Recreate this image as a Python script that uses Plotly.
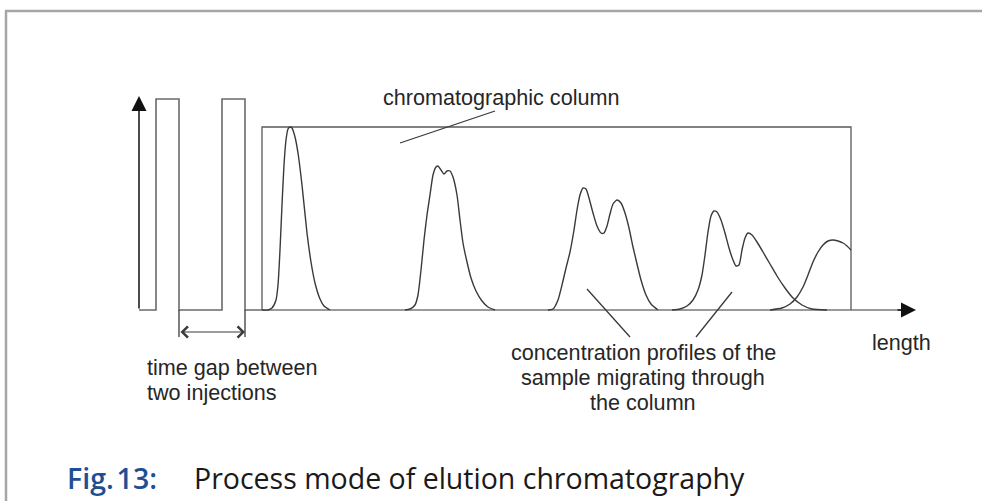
import plotly.graph_objects as go

# ---- data (x: length units, y: concentration above baseline) ----
# injection pulses
pulse_x = [139, 156, 156, 179, 179, 222, 222, 245, 245, 262]
pulse_y = [0, 0, 211, 211, 0, 0, 211, 211, 0, 0]

# column
col_x0, col_x1, col_top = 262, 851, 183
axis_end_x = 916
yaxis_top = 214

peak1_x = [262, 268, 272, 276, 278, 280, 282, 284, 286, 288, 290, 292, 295, 298, 302, 307, 311, 315, 320, 324, 330]
peak1_y = [0, 0, 2, 10, 25, 60, 105, 145, 170, 181, 183, 182, 173, 157, 125, 77, 48, 27, 11, 4, 0]

peak2_x = [405, 410, 415, 418, 421, 424, 427, 430, 433, 436, 438, 441, 444, 447, 450, 453, 457, 460, 463, 467, 471, 476, 482, 488, 495]
peak2_y = [0, 1, 5, 15, 40, 70, 95, 115, 135, 143, 144, 140, 136, 139, 139, 133, 115, 90, 67, 48, 32, 19, 9, 3, 0]

peak3_x = [548, 553, 558, 562, 566, 570, 574, 577, 580, 583, 586, 589, 593, 597, 601, 604, 607, 610, 613, 617, 621, 625, 629, 633, 637, 641, 646, 651, 658]
peak3_y = [0, 1, 10, 25, 42, 58, 80, 100, 115, 122, 121, 112, 97, 84, 77, 77, 84, 96, 106, 110, 107, 97, 82, 63, 46, 30, 15, 6, 0]

peak4_x = [672, 680, 687, 693, 698, 702, 705, 708, 711, 714, 717, 721, 725, 729, 733, 736, 739, 742, 745, 748, 752, 757, 763, 770, 777, 785, 793, 802, 812, 827]
peak4_y = [0, 1, 4, 10, 20, 35, 55, 78, 94, 99, 98, 90, 77, 62, 50, 44, 45, 60, 72, 77, 75, 68, 58, 46, 34, 22, 12, 5, 1, 0]

peak5_x = [770, 782, 790, 797, 803, 808, 813, 818, 823, 828, 833, 838, 843, 847, 851]
peak5_y = [0, 2, 6, 13, 23, 35, 48, 58, 65, 69, 70, 69, 67, 64, 60]

gap_x = [179, 245]
gap_arrow_y = -22
gap_line_bottom = -27

# ---- figure ----
LINE = "#3a3a3a"
TXT = "#262626"
FONT = "Liberation Sans, Arial, sans-serif"
CAP_FONT = "Open Sans, sans-serif"

fig = go.Figure()

fig.add_trace(go.Scatter(x=pulse_x, y=pulse_y, mode="lines",
                         line=dict(color="#6a6a6a", width=1.6), hoverinfo="skip"))
# baseline
fig.add_trace(go.Scatter(x=[col_x0, axis_end_x - 10], y=[0, 0], mode="lines",
                         line=dict(color="#9a9a9a", width=2.2), hoverinfo="skip"))
# column rectangle
fig.add_trace(go.Scatter(x=[col_x0, col_x0, col_x1, col_x1], y=[0, col_top, col_top, 0], mode="lines",
                         line=dict(color="#5a5a5a", width=1.3), hoverinfo="skip"))

for px, py in [(peak1_x, peak1_y), (peak2_x, peak2_y), (peak3_x, peak3_y),
               (peak4_x, peak4_y), (peak5_x, peak5_y)]:
    fig.add_trace(go.Scatter(x=px, y=py, mode="lines", line_shape="spline",
                             line=dict(color=LINE, width=1.4, smoothing=0.6), hoverinfo="skip"))

# gap marker lines
for gx in gap_x:
    fig.add_trace(go.Scatter(x=[gx, gx], y=[0, gap_line_bottom], mode="lines",
                             line=dict(color=LINE, width=1.3), hoverinfo="skip"))

ann = []
# y-axis arrow
ann.append(dict(x=139, y=yaxis_top, ax=139, ay=0, xref="x", yref="y", axref="x", ayref="y",
                text="", showarrow=True, arrowhead=2, arrowsize=2, arrowwidth=1.5, arrowcolor="#111"))
# x-axis arrow head
ann.append(dict(x=axis_end_x, y=0, ax=axis_end_x - 20, ay=0, xref="x", yref="y", axref="x", ayref="y",
                text="", showarrow=True, arrowhead=2, arrowsize=2, arrowwidth=1.5, arrowcolor="#111"))
# time gap double arrow
ann.append(dict(x=gap_x[1], y=gap_arrow_y, ax=gap_x[0], ay=gap_arrow_y, xref="x", yref="y", axref="x", ayref="y",
                text="", showarrow=True, arrowhead=4, startarrowhead=4, arrowside="end+start",
                arrowsize=2, startarrowsize=2, arrowwidth=1.1, arrowcolor=LINE))

def label(x, y, t, anchor="center", size=21.6):
    ann.append(dict(x=x, y=y, xref="x", yref="y", text=t, showarrow=False, xanchor=anchor,
                    yanchor="middle", font=dict(family=FONT, size=size, color=TXT)))

label(501, 213, "chromatographic column")
label(901, -32, "length")
label(145, -57, "time gap between", anchor="left")
label(145, -82, "two injections", anchor="left")
label(643, -42, "concentration profiles of the")
label(643, -67, "sample migrating through")
label(643, -92, "the column")

# caption
ann.append(dict(x=65, y=-168, xref="x", yref="y", text="Fig.\u200a13:", showarrow=False, xanchor="left",
                yanchor="middle", font=dict(family=CAP_FONT, size=28.5, color="#1f4f93", weight=600)))
ann.append(dict(x=192, y=-168, xref="x", yref="y", text="Process mode of elution chromatography",
                showarrow=False, xanchor="left", yanchor="middle",
                font=dict(family=CAP_FONT, size=28.5, color="#1a1a1a")))

shapes = [
    # leader lines
    dict(type="line", x0=495, y0=199, x1=400, y1=167, line=dict(color=LINE, width=1.3)),
    dict(type="line", x0=587, y0=21, x1=630, y1=-27, line=dict(color=LINE, width=1.3)),
    dict(type="line", x0=732, y0=18, x1=696, y1=-27, line=dict(color=LINE, width=1.3)),
    # page frame
    dict(type="line", x0=5, y0=299, x1=982, y1=299, line=dict(color="#a6a6a6", width=2.5)),
    dict(type="line", x0=6, y0=299, x1=6, y1=-191, line=dict(color="#a6a6a6", width=2.5)),
]

fig.update_layout(
    width=982, height=501, margin=dict(l=0, r=0, t=0, b=0),
    paper_bgcolor="white", plot_bgcolor="white", showlegend=False,
    annotations=ann, shapes=shapes,
)
fig.update_xaxes(range=[0, 982], visible=False, fixedrange=True)
fig.update_yaxes(range=[-191, 310], visible=False, fixedrange=True)

fig.write_html("out.html", config={"displayModeBar": False},
               post_script="document.body.style.margin='0px';document.documentElement.style.overflow='hidden';")
